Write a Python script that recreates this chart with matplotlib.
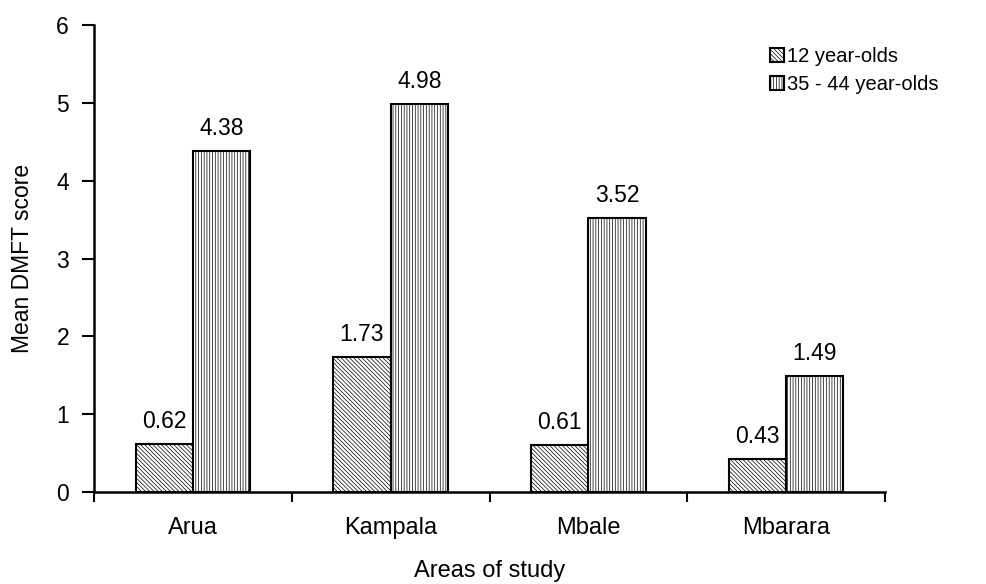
import matplotlib
matplotlib.use("Agg")
import matplotlib.pyplot as plt
import numpy as np

areas = ["Arua", "Kampala", "Mbale", "Mbarara"]
series_names = ["12 year-olds", "35 - 44 year-olds"]
dmft_12 = [0.62, 1.73, 0.61, 0.43]
dmft_35_44 = [4.38, 4.98, 3.52, 1.49]
y_ticks = [0, 1, 2, 3, 4, 5, 6]

plt.rcParams['font.family'] = ['Liberation Sans', 'DejaVu Sans']
plt.rcParams['hatch.linewidth'] = 0.5

fig = plt.figure(figsize=(9.86, 5.84), dpi=100)
ax = fig.add_axes([94/986, 1 - 492/584, (885-94)/986, (492-25)/584])

x = np.arange(len(areas))
w = 0.29
b1 = ax.bar(x - w/2, dmft_12, width=w, color='white', edgecolor='black',
            linewidth=1.5, hatch='\\' * 8, label=series_names[0])
b2 = ax.bar(x + w/2, dmft_35_44, width=w, color='white', edgecolor='black',
            linewidth=1.5, hatch='||||||', label=series_names[1])

for bars, vals in ((b1, dmft_12), (b2, dmft_35_44)):
    for r, v in zip(bars, vals):
        ax.annotate(f"{v:.2f}", (r.get_x() + r.get_width()/2, v),
                    xytext=(0, 11.5), textcoords='offset points',
                    ha='center', va='baseline', fontsize=16.5)

ax.set_xlim(-0.5, len(areas) - 0.5)
ax.set_ylim(0, 6)
ax.set_yticks(y_ticks)
ax.set_yticklabels([str(t) for t in y_ticks], fontsize=16.5)

ax.set_xticks(np.arange(len(areas) + 1) - 0.5)
ax.set_xticklabels([])
ax.set_xticks(x, minor=True)
ax.set_xticklabels(areas, minor=True, fontsize=17)
ax.tick_params(axis='x', which='major', direction='out', length=7, width=1.5)
ax.tick_params(axis='x', which='minor', length=0, pad=18)
ax.tick_params(axis='y', direction='out', length=9, width=1.5, pad=9)

for s in ('top', 'right'):
    ax.spines[s].set_visible(False)
for s in ('left', 'bottom'):
    ax.spines[s].set_linewidth(1.8)

ax.set_xlabel("Areas of study", fontsize=17, va='top')
ax.xaxis.set_label_coords(0.5, -0.146)
ax.set_ylabel("Mean DMFT score", fontsize=16.5, va='center')
ax.yaxis.set_label_coords(-0.09, 0.5)

fig.legend(handles=[b1, b2], labels=series_names, loc='upper left',
           bbox_to_anchor=(0.781, 0.919), frameon=False, fontsize=14.5,
           handlelength=0.7, handleheight=0.7, handletextpad=0.15,
           labelspacing=0.45, borderpad=0, borderaxespad=0)

fig.savefig("out.png", dpi=100)
